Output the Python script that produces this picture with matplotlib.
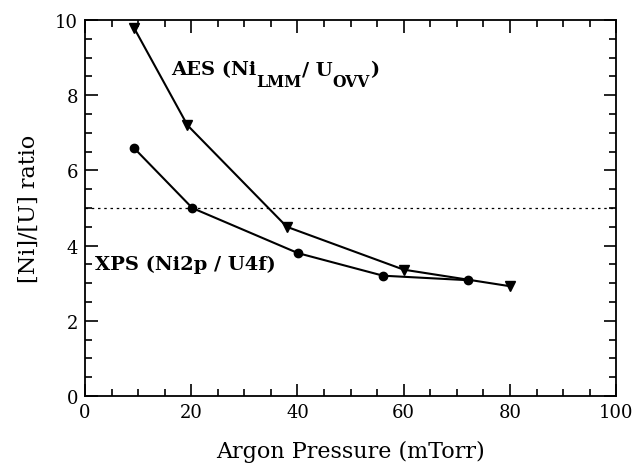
import matplotlib
matplotlib.use("Agg")
import matplotlib.pyplot as plt
from matplotlib.ticker import MultipleLocator

# Data
aes_x = [9.2, 19.3, 38, 60, 80]
aes_y = [9.8, 7.2, 4.5, 3.36, 2.92]
xps_x = [9.2, 20.2, 40.1, 56.1, 72.1]
xps_y = [6.6, 5.0, 3.8, 3.2, 3.08]
ref_level = 5.0

plt.rcParams['font.family'] = ['DejaVu Serif']

fig = plt.figure(figsize=(6.34, 4.64), dpi=100)
ax = fig.add_axes([0.134, 0.1444, 0.838, 0.8103])

ax.axhline(ref_level, color='black', linestyle=(0, (2, 3)), linewidth=0.9)
ax.plot(aes_x, aes_y, color='black', linewidth=1.5, marker='v', markersize=7)
ax.plot(xps_x, xps_y, color='black', linewidth=1.5, marker='o', markersize=6)

ax.set_xlim(0, 100)
ax.set_ylim(0, 10)
ax.xaxis.set_major_locator(MultipleLocator(20))
ax.xaxis.set_minor_locator(MultipleLocator(5))
ax.yaxis.set_major_locator(MultipleLocator(2))
ax.yaxis.set_minor_locator(MultipleLocator(0.5))
ax.tick_params(which='both', direction='in', top=True, right=True, width=1.2)
ax.tick_params(which='major', length=9, labelsize=13, pad=5)
ax.tick_params(which='minor', length=4.8)
for s in ax.spines.values():
    s.set_linewidth(1.3)

ax.set_xlabel('Argon Pressure (mTorr)', fontsize=16, labelpad=14)
ax.set_ylabel('[Ni]/[U] ratio', fontsize=16, labelpad=11)


def chain(x, y, parts, size):
    prev = None
    for txt, sub in parts:
        fs = size * 0.8 if sub else size
        dy = -8 if sub else 0
        if prev is None:
            prev = ax.annotate(txt, xy=(x, y), xycoords='data',
                               xytext=(0, dy), textcoords='offset points',
                               ha='left', va='baseline', fontsize=fs,
                               weight='bold')
        else:
            prev = ax.annotate(txt, xy=(1, y), xycoords=(prev, 'data'),
                               xytext=(0, dy), textcoords='offset points',
                               ha='left', va='baseline', fontsize=fs,
                               weight='bold')


chain(16.26, 8.55, [('AES (Ni', False), ('LMM', True), ('/', False),
                    (' U', False), ('OVV', True), (')', False)], 14)
chain(1.9, 3.38, [('XPS (Ni2p / U4f)', False)], 14)

fig.savefig('out.png', dpi=100)
